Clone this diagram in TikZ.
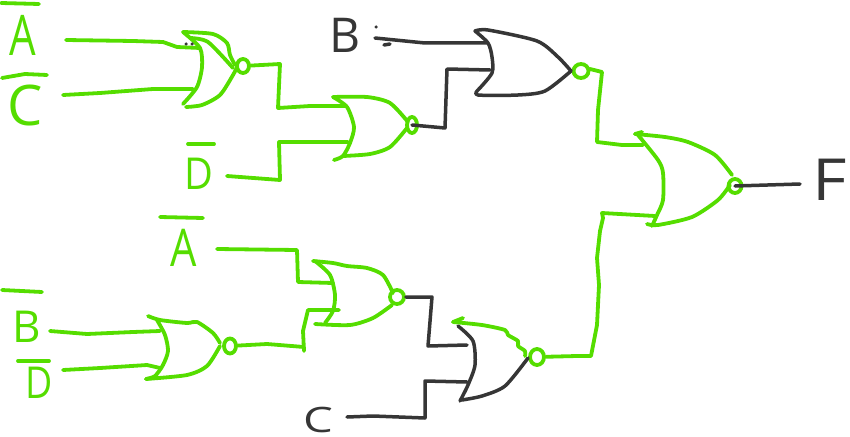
\documentclass[tikz,border=0pt]{standalone}
\usepackage{fontspec}
\setmainfont{Open Sans}
\usetikzlibrary{shapes.geometric}
\definecolor{pen}{HTML}{55DD00}
\definecolor{ink}{HTML}{363636}
\newcommand{\narrow}[2]{\scalebox{#1}[1]{#2}}
\tikzset{
  wg/.style={draw=pen,line width=3.8pt,line cap=round,line join=round},
  wd/.style={draw=ink,line width=3.5pt,line cap=round,line join=round},
  bub/.style={ellipse,draw=pen,line width=3.8pt,inner sep=0pt},
  lab/.style={inner sep=0pt,text=pen,font=\fontsize{#1}{#1}\selectfont},
  labd/.style={inner sep=0pt,text=ink,font=\fontsize{#1}{#1}\selectfont},
  tip/.style={fill=ink,circle,inner sep=0pt,minimum size=3.5pt},
  soft/.style={smooth,tension=0.45}
}
\begin{document}
\begin{tikzpicture}[x=1pt,y=-1pt]
\useasboundingbox (0,0) rectangle (850,436);
% labels
\node[lab=56] (lA1) at (23,35) {\narrow{.75}{A}};
\node[lab=56] (lC1) at (25,105) {C};
\node[lab=44] (lD1) at (199,174) {\narrow{.9}{D}};
\node[labd=48] (lB) at (345,35) {B};
\node[lab=52] (lA2) at (184,248) {\narrow{.8}{A}};
\node[lab=44] (lB2) at (27,327) {B};
\node[lab=44] (lD2) at (39,383) {\narrow{.85}{D}};
\node[labd=35] (lC2) at (318,420) {\narrow{1.35}{C}};
\node[labd=58] (lF) at (830,180) {\narrow{1.15}{F}};
% overbars
\draw[wg] (1,3) -- (39,4);
\draw[wg] (2,78) -- (25,74) -- (47,75);
\draw[wg] (188,144) -- (214,144);
\draw[wg] (160,217) -- (203,218);
\draw[wg] (2,290) -- (42,292);
\draw[wg] (18,361) -- (49,361);
% bubbles
\node[bub,minimum width=12pt,minimum height=14pt] (b1) at (243,66) {};
\node[bub,minimum width=10pt,minimum height=16pt] (b2) at (412,125) {};
\node[bub,minimum width=15pt,minimum height=14pt] (b3) at (581,71) {};
\node[bub,minimum width=13pt,minimum height=14pt] (b4) at (735,186) {};
\node[bub,minimum width=14pt,minimum height=14pt] (b6) at (397,297) {};
\node[bub,minimum width=12pt,minimum height=15pt] (b7) at (230,346) {};
\node[bub,minimum width=14pt,minimum height=16pt] (b5) at (537,357) {};
% pins
\coordinate (a1) at (66,40); \coordinate (g1a) at (200,48);
\coordinate (c1) at (63,95); \coordinate (g1b) at (193,89);
\coordinate (g2a) at (345,106); \coordinate (g2b) at (348,142);
\coordinate (d1) at (227,176);
\coordinate (bin) at (375,38); \coordinate (g3a) at (487,43);
\coordinate (g3b) at (490,70); \coordinate (g4a) at (643,145);
\coordinate (g4b) at (655,216); \coordinate (fend) at (800,184);
\coordinate (a2) at (217,249); \coordinate (g6a) at (333,283);
\coordinate (g6b) at (339,310);
\coordinate (b2in) at (50,331); \coordinate (g7a) at (160,331);
\coordinate (d2in) at (63,370); \coordinate (g7b) at (160,368);
\coordinate (g5a) at (467,345); \coordinate (g5b) at (467,382);
\coordinate (cin) at (347,417);
% green wires
\draw[wg] (a1) -- (133,41) -- (163,42) -- (177,47) -- (g1a);
\draw[wg] (c1) -- (100,93) -- (153,89) -- (g1b);
\draw[wg] (b1) -- (280,64) -- (278,108) -- (310,106) -- (g2a);
\draw[wg] (d1) -- (280,180) -- (279,142) -- (g2b);
\draw[wg] (b3) -- (590,69) -- (602,72) -- (598,110) -- (597,142) -- (622,145) -- (g4a);
\draw[wg] (b5) -- (577,356) -- (591,356) -- (597,325) -- (599,285) -- (597,258) -- (600,231) -- (603,218) -- (602,213) -- (g4b);
\draw[wg] (a2) -- (297,250) -- (298,282) -- (g6a);
\draw[wg] (b7) -- (267,344) -- (304,347) -- (304,351) -- (303,331) -- (308,310) -- (g6b);
\draw[wg] (b2in) -- (87,334) -- (133,332) -- (g7a);
\draw[wg] (d2in) -- (100,368) -- (147,365) -- (g7b);
% dark wires
\draw[wd] (bin) -- (425,43) -- (g3a);
\draw[wd] (b2.center) -- (445,128) -- (447,69) -- (g3b);
\draw[wd] (b6) -- (432,297) -- (428,346) -- (g5a);
\draw[wd] (cin) -- (373,416) -- (425,418) -- (425,381) -- (g5b);
\draw[wd] (b4.center) -- (fend);
% gate 1
\draw[wg] plot[soft] coordinates {(183,32) (200,48) (202,67) (197,87) (183,104)};
\draw[wg] plot[soft] coordinates {(186,107) (202,105) (220,95) (233,75) (237,67)};
\draw[wg] plot[soft] coordinates {(183,32) (213,34) (227,43) (230,55) (235,65)};
\draw[wg] plot[soft] coordinates {(190,38) (208,42) (233,68)};
% gate 2
\draw[wg] plot[soft] coordinates {(333,97) (347,107) (354,127) (350,143) (343,156) (334,160)};
\draw[wg] plot[soft] coordinates {(333,97) (367,97) (390,103) (408,122)};
\draw[wg] plot[soft] coordinates {(343,156) (370,154) (390,147) (407,128)};
% gate 3
\draw[wd] plot[soft] coordinates {(478,90) (492,73) (492,57) (488,43) (475,31)};
\draw[wd] plot[soft] coordinates {(475,31) (488,30) (537,41) (558,57) (571,71)};
\draw[wd] plot[soft] coordinates {(571,71) (545,91) (518,95) (478,95) (478,90)};
% gate 4
\draw[wg] (635,134) -- (642,132);
\draw[wg] plot[soft] coordinates {(635,134) (665,137) (688,142) (715,155) (732,175)};
\draw[wg] plot[soft] coordinates {(638,135) (658,160) (663,173) (663,200) (657,215) (652,226)};
\draw[wg] plot[soft] coordinates {(647,224) (658,225) (692,217) (718,200) (730,185)};
% gate 5
\draw[wg] (463,318) -- (453,322);
\draw[wg] plot[soft] coordinates {(453,322) (482,325) (505,330) (508,335) (518,341) (518,346) (525,351) (525,356)};
\draw[wd] plot[soft] coordinates {(458,326) (473,341) (475,365) (468,385) (460,401)};
\draw[wd] plot[soft] coordinates {(462,400) (482,396) (505,386) (528,358)};
% gate 6
\draw[wg] plot[soft] coordinates {(313,261) (333,263) (347,266) (367,268) (383,275) (393,293)};
\draw[wg] plot[soft] coordinates {(315,261) (330,275) (335,295) (333,311) (325,323)};
\draw[wg] plot[soft] coordinates {(315,324) (350,325) (373,318) (392,305)};
% gate 7
\draw[wg] plot[soft] coordinates {(148,316) (160,320) (187,323) (197,322) (213,333) (220,343)};
\draw[wg] plot[soft] coordinates {(157,320) (165,335) (168,351) (163,365) (155,376) (146,379)};
\draw[wg] plot[soft] coordinates {(146,379) (187,375) (207,366) (220,346)};
% specks
\node[tip] (s1) at (186,44) {};
\node[tip] (s2) at (192,44) {};
\node[tip] (s3) at (376,27) {};
\draw[wd] (384,45) -- (390,44);
\end{tikzpicture}
\end{document}
